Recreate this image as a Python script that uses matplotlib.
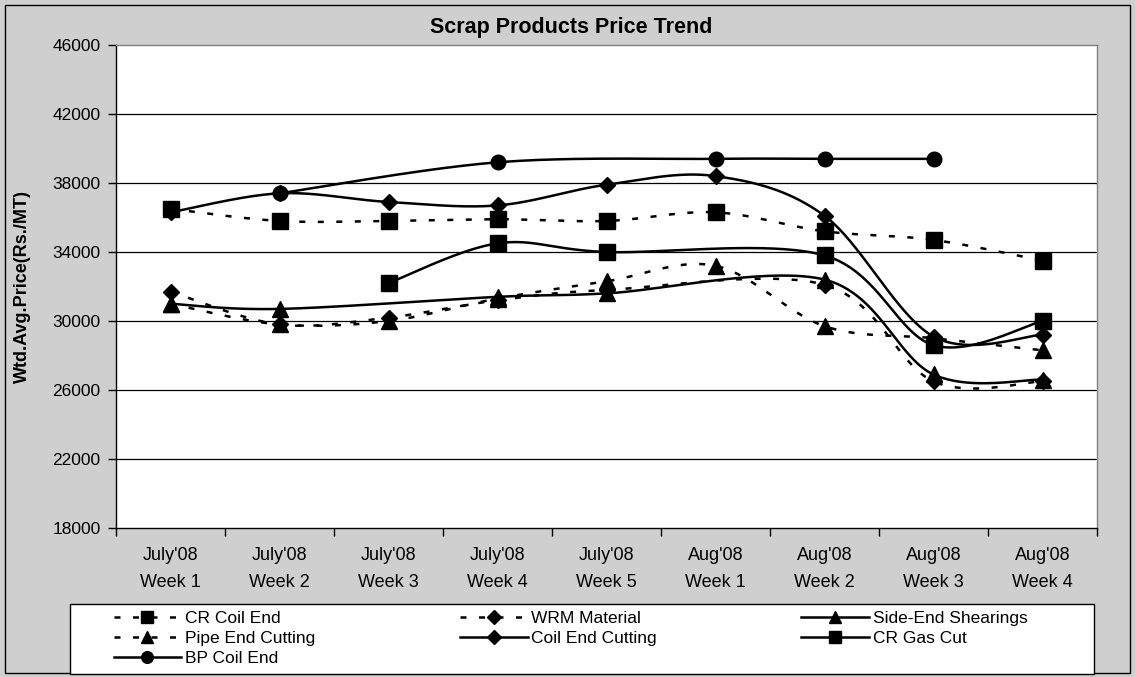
import numpy as np
import matplotlib
matplotlib.use("Agg")
import matplotlib.pyplot as plt
from matplotlib.lines import Line2D
from matplotlib.patches import Rectangle

plt.rcParams['font.family'] = ['Liberation Sans', 'DejaVu Sans']

nan = np.nan
categories = ["July'08\nWeek 1", "July'08\nWeek 2", "July'08\nWeek 3", "July'08\nWeek 4",
              "July'08\nWeek 5", "Aug'08\nWeek 1", "Aug'08\nWeek 2", "Aug'08\nWeek 3",
              "Aug'08\nWeek 4"]

cr_coil_end = [36500, 35800, 35800, 35900, 35800, 36300, 35200, 34700, 33500]
wrm_material = [31700, 29800, 30200, 31200, 31800, nan, 32100, 26500, 26500]
side_end_shearings = [31000, 30700, nan, 31400, 31600, nan, 32400, 26900, 26600]
pipe_end_cutting = [31000, 29800, 30000, 31300, 32300, 33200, 29700, 29000, 28300]
coil_end_cutting = [36300, 37400, 36900, 36700, 37900, 38400, 36100, 29100, 29200]
cr_gas_cut = [nan, nan, 32200, 34500, 34000, nan, 33800, 28600, 30000]
bp_coil_end = [nan, 37400, nan, 39200, nan, 39400, 39400, 39400, nan]

y_ticks = [18000, 22000, 26000, 30000, 34000, 38000, 42000, 46000]

series = [
    ("CR Coil End", cr_coil_end, 's', True),
    ("WRM Material", wrm_material, 'D', True),
    ("Side-End Shearings", side_end_shearings, '^', False),
    ("Pipe End Cutting", pipe_end_cutting, '^', True),
    ("Coil End Cutting", coil_end_cutting, 'D', False),
    ("CR Gas Cut", cr_gas_cut, 's', False),
    ("BP Coil End", bp_coil_end, 'o', False),
]
msize = {'s': 11, 'D': 8.5, '^': 11, 'o': 10.5}


def smooth(xs, ys, n=40):
    P = np.array([(x, y) for x, y in zip(xs, ys) if not np.isnan(y)], dtype=float)
    if len(P) < 2:
        return P[:, 0], P[:, 1]
    cx, cy = [], []
    t = np.linspace(0, 1, n)[:, None]
    for i in range(len(P) - 1):
        p0 = P[i - 1] if i > 0 else P[i]
        p1 = P[i]
        p2 = P[i + 1]
        p3 = P[i + 2] if i + 2 < len(P) else P[i + 1]
        c1 = p1 + (p2 - p0) / 6.0
        c2 = p2 - (p3 - p1) / 6.0
        b = ((1 - t) ** 3) * p1 + 3 * ((1 - t) ** 2) * t * c1 + 3 * (1 - t) * (t ** 2) * c2 + (t ** 3) * p2
        cx.extend(b[:, 0])
        cy.extend(b[:, 1])
    return np.array(cx), np.array(cy)


W, H = 1135, 677
fig = plt.figure(figsize=(W / 100, H / 100), dpi=100, facecolor='#CFCFCF')
fig.patches.append(Rectangle((5 / W, 4 / H), (W - 10) / W, (H - 9) / H, transform=fig.transFigure,
                             fill=False, edgecolor='black', linewidth=1))

ax = fig.add_axes([116 / W, (H - 528) / H, (1097 - 116) / W, (528 - 45) / H])
ax.set_facecolor('white')

x = np.arange(len(categories))
lw = 1.8
dash = (2.4, 5.0)
handles = {}
for name, vals, mk, dashed in series:
    vals = np.array(vals, dtype=float)
    sx, sy = smooth(x, vals)
    ls_kw = dict(dashes=dash) if dashed else dict(linestyle='-')
    ax.plot(sx, sy, color='black', lw=lw, **ls_kw)
    ax.plot(x, vals, linestyle='none', marker=mk, markersize=msize[mk], color='black',
            markeredgecolor='black')
    handles[name] = Line2D([], [], color='black', lw=lw, marker=mk,
                           markersize=msize[mk] * 0.8, **ls_kw)

ax.set_xlim(-0.5, len(categories) - 0.5)
ax.set_ylim(18000, 46000)
ax.set_yticks(y_ticks)
ax.set_yticklabels([str(v) for v in y_ticks])
ax.set_xticks(x)
ax.set_xticklabels(categories, fontsize=13, linespacing=1.75)
ax.set_xticks(np.arange(-0.5, len(categories), 1.0), minor=True)
ax.tick_params(axis='x', which='major', length=0, pad=14)
ax.tick_params(axis='x', which='minor', length=6, width=1, direction='out', color='black')
ax.tick_params(axis='y', which='major', length=6, width=1, direction='out', pad=5,
               labelsize=12.5, color='black')
for v in y_ticks[1:-1]:
    ax.axhline(v, color='black', lw=0.9, zorder=0.5)
ax.spines['top'].set_color('#808080')
ax.spines['right'].set_color('#808080')
ax.spines['left'].set_color('black')
ax.spines['bottom'].set_color('black')
for s in ax.spines.values():
    s.set_linewidth(1)

fig.text(0.503, 1 - 28 / H, "Scrap Products Price Trend", ha='center', va='center',
         fontsize=15.5, fontweight='bold')
fig.text(22 / W, 1 - 286.5 / H, "Wtd.Avg.Price(Rs./MT)", ha='center', va='center',
         rotation=90, fontsize=13, fontweight='bold')

# legend box
fig.patches.append(Rectangle((70 / W, (H - 674) / H), (1094 - 70) / W, 70 / H,
                             transform=fig.transFigure, facecolor='white',
                             edgecolor='black', linewidth=1, zorder=1))
order = ["CR Coil End", "Pipe End Cutting", "BP Coil End", "WRM Material",
         "Coil End Cutting", "Side-End Shearings", "CR Gas Cut"]
leg = fig.legend([handles[n] for n in order], order, ncol=3, mode='expand',
                 loc='upper left', bbox_to_anchor=(111 / W, 1 - 674 / H, (1030 - 111) / W, 66 / H),
                 frameon=False, fontsize=12.5, handlelength=3.9, handletextpad=0.2,
                 labelspacing=0.3, borderpad=0.15, numpoints=1, borderaxespad=0)
leg.set_zorder(2)

fig.savefig("out.png", dpi=100, facecolor=fig.get_facecolor())
